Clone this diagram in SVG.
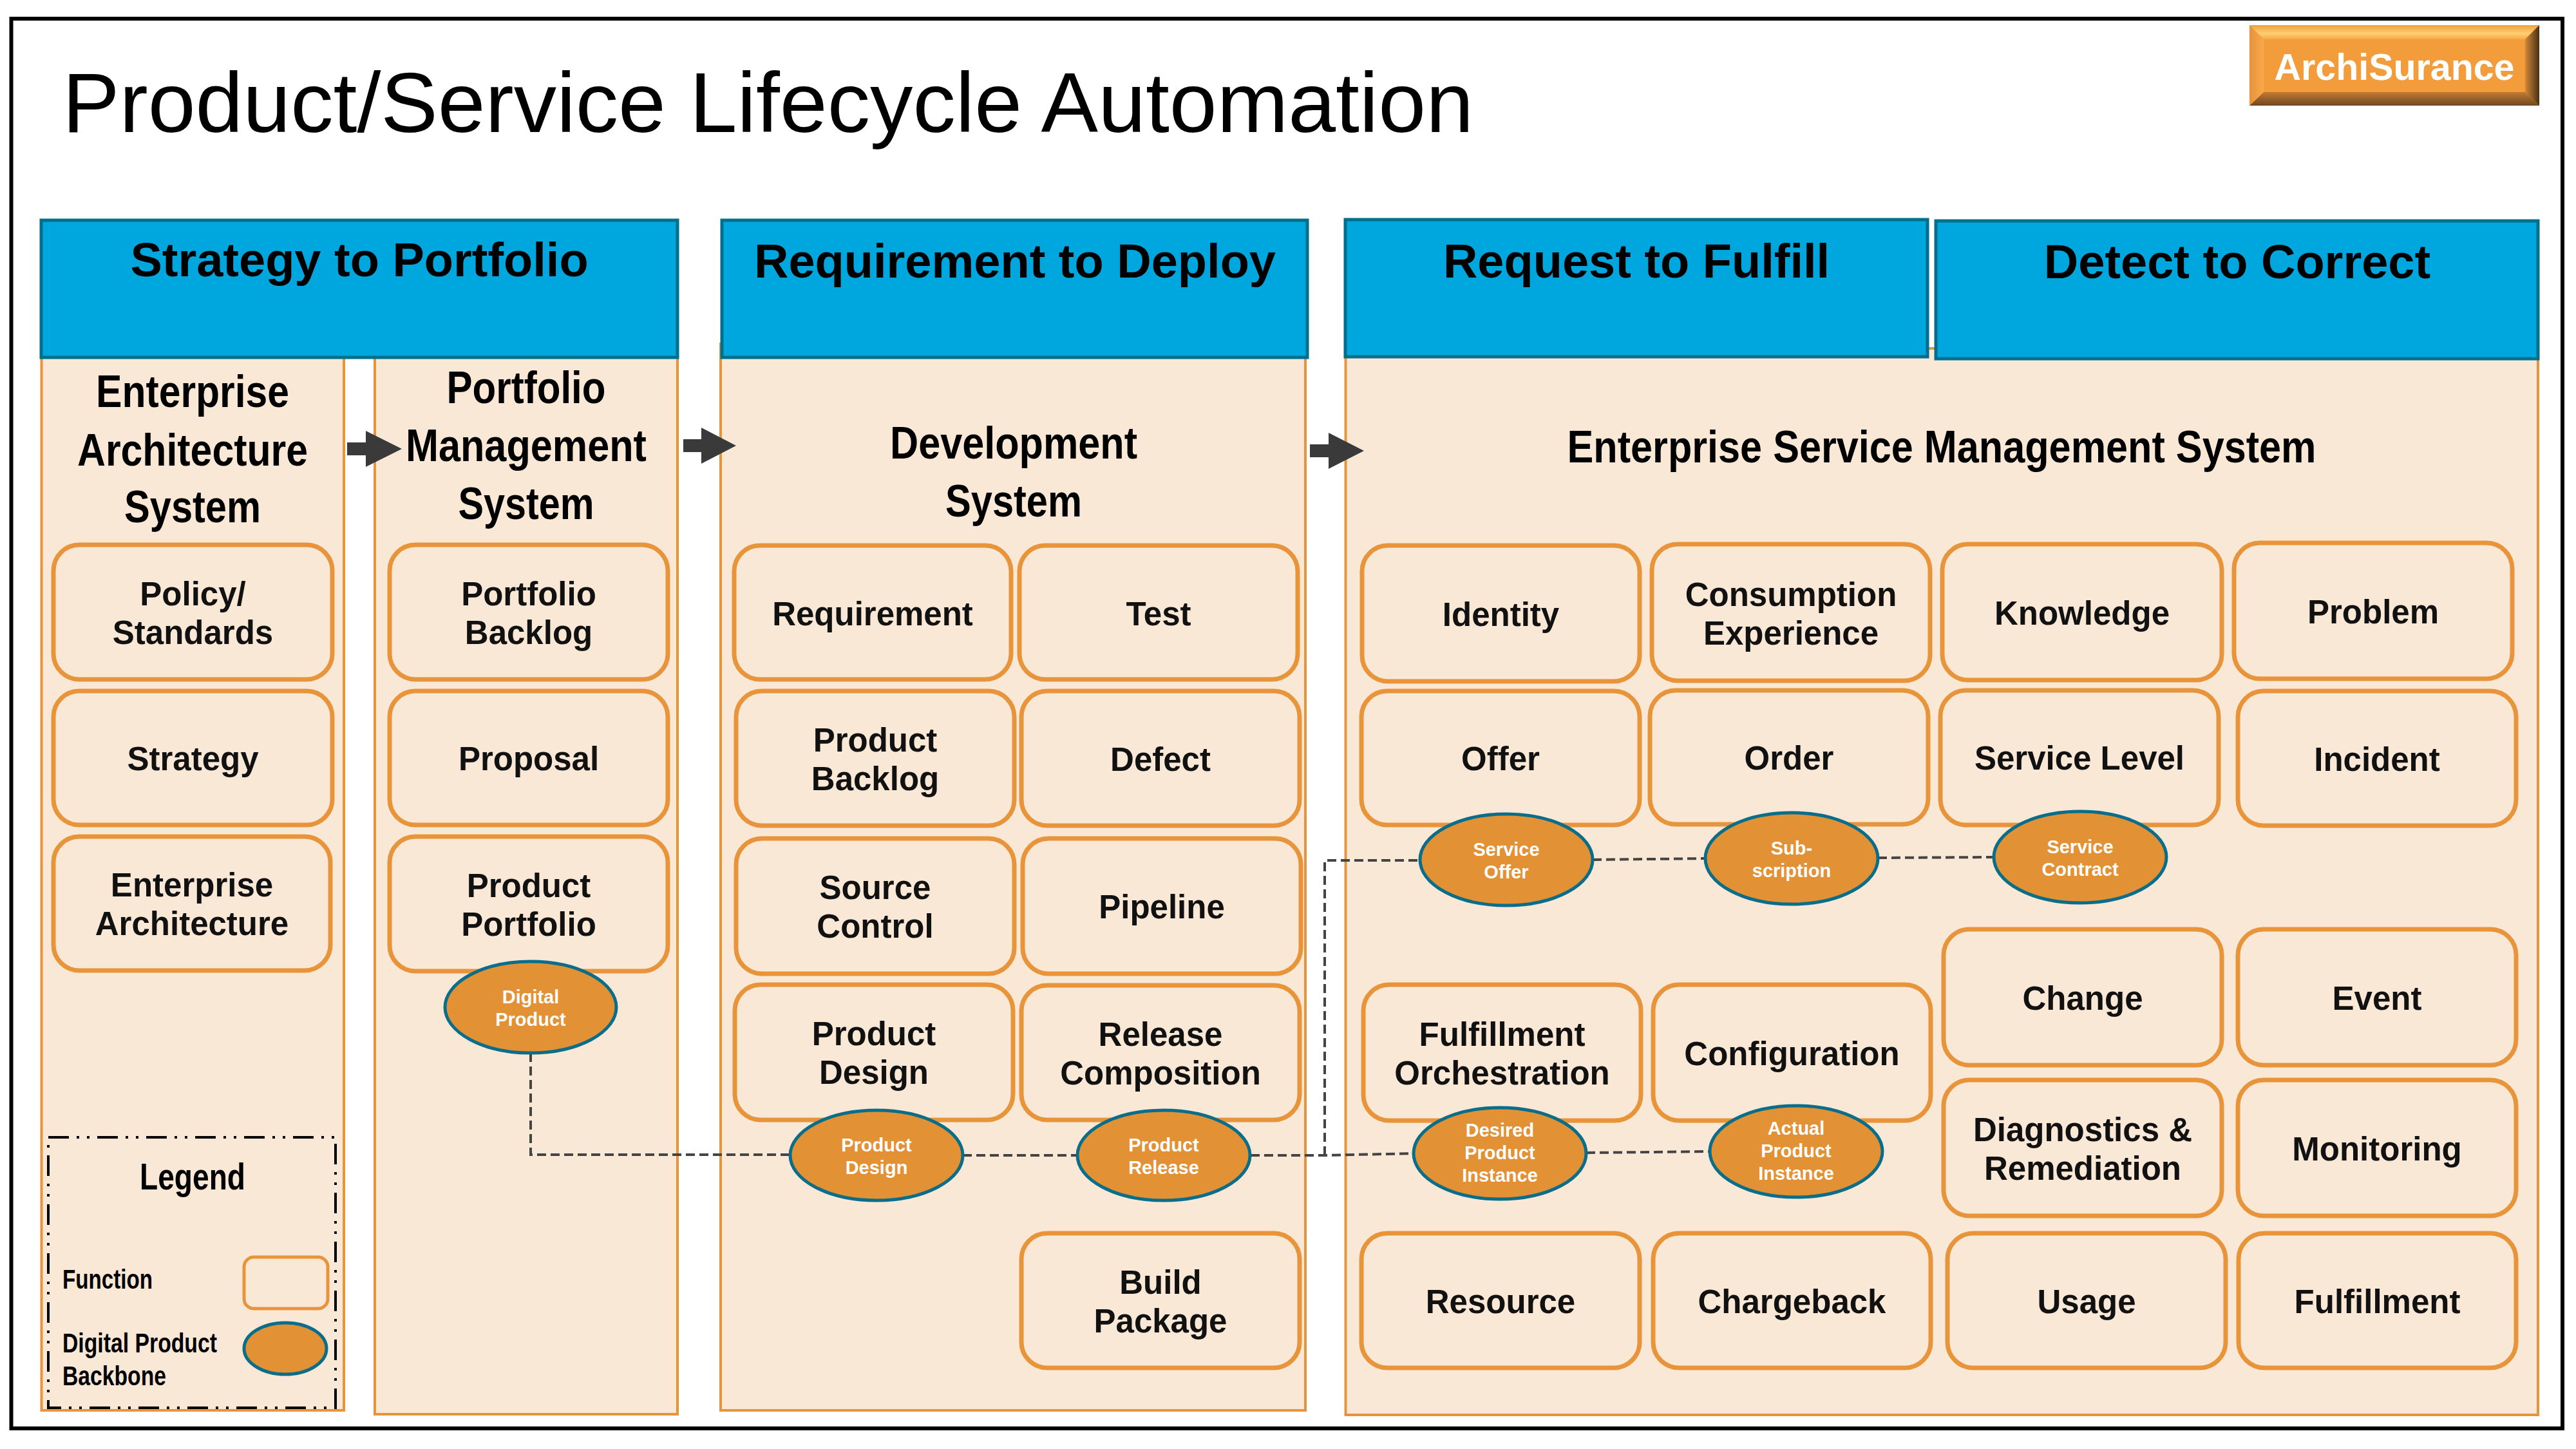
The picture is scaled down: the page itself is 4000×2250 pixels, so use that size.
<svg xmlns="http://www.w3.org/2000/svg" width="4000" height="2250" viewBox="0 0 4000 2250">
<defs>
<style>
text{font-family:"Liberation Sans",Arial,sans-serif;}
.col{fill:#FAE8D7;stroke:#E8943A;stroke-width:4;}
.hdr{fill:#00A7DE;stroke:#006F8C;stroke-width:5;}
.hdrt{font-weight:bold;font-size:74px;fill:#000;text-anchor:middle;}
.sys{font-weight:bold;font-size:70px;fill:#000;text-anchor:middle;}
.fn{fill:#FAE8D7;stroke:#E8943A;stroke-width:7;}
.lbl{font-weight:bold;font-size:51px;fill:#111;text-anchor:middle;}
.dp{fill:#E39135;stroke:#0A6E8A;stroke-width:5;}
.dpt{font-weight:bold;font-size:29px;fill:#fff;text-anchor:middle;}
.conn{fill:none;stroke:#444;stroke-width:4;stroke-dasharray:14 7;}
.arr{fill:#3A3A3A;}
.leg{font-weight:bold;fill:#000;}
</style>
<linearGradient id="gTop" x1="0" y1="0" x2="0" y2="1">
<stop offset="0" stop-color="#F0A040"/><stop offset="0.6" stop-color="#FFD070"/><stop offset="1" stop-color="#F6A845"/>
</linearGradient>
<linearGradient id="gBot" x1="0" y1="0" x2="0" y2="1">
<stop offset="0" stop-color="#C27A32"/><stop offset="1" stop-color="#6E4820"/>
</linearGradient>
<linearGradient id="gRight" x1="0" y1="0" x2="1" y2="0">
<stop offset="0" stop-color="#D08838"/><stop offset="1" stop-color="#4A3015"/>
</linearGradient>
<linearGradient id="gLeft" x1="0" y1="0" x2="1" y2="0">
<stop offset="0" stop-color="#E8923A"/><stop offset="1" stop-color="#F8AA4C"/>
</linearGradient>
</defs>

<rect id="frame" x="17.5" y="29" width="3961.5" height="2189" fill="#fff" stroke="#000" stroke-width="6"/>

<text id="title" x="97" y="205" font-size="132" fill="#000" textLength="2191" lengthAdjust="spacingAndGlyphs">Product/Service Lifecycle Automation</text>

<g id="badge">
<rect x="3493" y="39" width="450" height="125" fill="#F39C3C"/>
<polygon points="3493,39 3943,39 3921,61 3515,61" fill="url(#gTop)"/>
<polygon points="3493,164 3943,164 3921,143 3515,143" fill="url(#gBot)"/>
<polygon points="3493,39 3515,61 3515,143 3493,164" fill="url(#gLeft)"/>
<polygon points="3943,39 3921,61 3921,143 3943,164" fill="url(#gRight)"/>
<text x="3718" y="124" font-size="57" font-weight="bold" fill="#fff" text-anchor="middle" textLength="373" lengthAdjust="spacingAndGlyphs">ArchiSurance</text>
</g>

<g id="columns">
<rect id="col-ea" class="col" x="64.5" y="550" width="469.5" height="1640"/>
<rect id="col-pm" class="col" x="582" y="550" width="470" height="1646"/>
<rect id="col-dev" class="col" x="1119" y="534" width="908" height="1656"/>
<rect id="col-esm" class="col" x="2089.5" y="541" width="1851.5" height="1656"/>
</g>

<g id="hdr-s2p"><rect class="hdr" x="64" y="342" width="988" height="213"/><text class="hdrt" x="558" y="429">Strategy to Portfolio</text></g>
<g id="hdr-r2d"><rect class="hdr" x="1121" y="342" width="909" height="213"/><text class="hdrt" x="1576" y="431">Requirement to Deploy</text></g>
<g id="hdr-r2f"><rect class="hdr" x="2089" y="341" width="904" height="213"/><text class="hdrt" x="2541" y="431">Request to Fulfill</text></g>
<g id="hdr-d2c"><rect class="hdr" x="3006" y="343" width="935" height="214"/><text class="hdrt" x="3474" y="432">Detect to Correct</text></g>

<g id="sys-ea">
<text class="sys" x="299" y="632" textLength="300" lengthAdjust="spacingAndGlyphs">Enterprise</text>
<text class="sys" x="299" y="723" textLength="358" lengthAdjust="spacingAndGlyphs">Architecture</text>
<text class="sys" x="299" y="811" textLength="212" lengthAdjust="spacingAndGlyphs">System</text>
</g>
<g id="sys-pm">
<text class="sys" x="817" y="626" textLength="247" lengthAdjust="spacingAndGlyphs">Portfolio</text>
<text class="sys" x="817" y="716" textLength="374" lengthAdjust="spacingAndGlyphs">Management</text>
<text class="sys" x="817" y="806" textLength="211" lengthAdjust="spacingAndGlyphs">System</text>
</g>
<g id="sys-dev">
<text class="sys" x="1574" y="712" textLength="384" lengthAdjust="spacingAndGlyphs">Development</text>
<text class="sys" x="1574" y="802" textLength="212" lengthAdjust="spacingAndGlyphs">System</text>
</g>
<g id="sys-esm">
<text class="sys" x="3015" y="718" textLength="1163" lengthAdjust="spacingAndGlyphs">Enterprise Service Management System</text>
</g>

<g id="flow-arrows">
<polygon class="arr" points="539,687 568,687 568,669 624,697 568,725 568,707 539,707"/>
<polygon class="arr" points="1061,682 1089,682 1089,664 1143,692 1089,720 1089,702 1061,702"/>
<polygon class="arr" points="2034,690 2063,690 2063,672 2118,700 2063,728 2063,710 2034,710"/>
</g>

<!-- Strategy to Portfolio functions -->
<g id="fn-policy"><rect class="fn" x="83" y="846" width="433" height="209" rx="40"/><text class="lbl" x="299.5" y="940">Policy/</text><text class="lbl" x="299.5" y="1000">Standards</text></g>
<g id="fn-strategy"><rect class="fn" x="83" y="1073" width="433" height="208" rx="40"/><text class="lbl" x="299.5" y="1196">Strategy</text></g>
<g id="fn-ea"><rect class="fn" x="83" y="1299" width="430" height="208" rx="40"/><text class="lbl" x="298" y="1392">Enterprise</text><text class="lbl" x="298" y="1452">Architecture</text></g>
<g id="fn-pbacklog"><rect class="fn" x="605" y="846" width="432" height="209" rx="40"/><text class="lbl" x="821" y="940">Portfolio</text><text class="lbl" x="821" y="1000">Backlog</text></g>
<g id="fn-proposal"><rect class="fn" x="605" y="1073" width="432" height="208" rx="40"/><text class="lbl" x="821" y="1196">Proposal</text></g>
<g id="fn-pportfolio"><rect class="fn" x="605" y="1299" width="432" height="209" rx="40"/><text class="lbl" x="821" y="1393">Product</text><text class="lbl" x="821" y="1453">Portfolio</text></g>

<!-- Requirement to Deploy functions -->
<g id="fn-requirement"><rect class="fn" x="1140" y="847" width="430" height="208" rx="40"/><text class="lbl" x="1355" y="971">Requirement</text></g>
<g id="fn-test"><rect class="fn" x="1583" y="847" width="432" height="208" rx="40"/><text class="lbl" x="1799" y="971">Test</text></g>
<g id="fn-prodbacklog"><rect class="fn" x="1143" y="1073" width="432" height="209" rx="40"/><text class="lbl" x="1359" y="1167">Product</text><text class="lbl" x="1359" y="1227">Backlog</text></g>
<g id="fn-defect"><rect class="fn" x="1586" y="1073" width="432" height="209" rx="40"/><text class="lbl" x="1802" y="1197">Defect</text></g>
<g id="fn-source"><rect class="fn" x="1143" y="1302" width="432" height="210" rx="40"/><text class="lbl" x="1359" y="1396">Source</text><text class="lbl" x="1359" y="1456">Control</text></g>
<g id="fn-pipeline"><rect class="fn" x="1588" y="1302" width="432" height="210" rx="40"/><text class="lbl" x="1804" y="1426">Pipeline</text></g>
<g id="fn-proddesign"><rect class="fn" x="1141" y="1529" width="432" height="210" rx="40"/><text class="lbl" x="1357" y="1623">Product</text><text class="lbl" x="1357" y="1683">Design</text></g>
<g id="fn-release"><rect class="fn" x="1586" y="1530" width="432" height="209" rx="40"/><text class="lbl" x="1802" y="1624">Release</text><text class="lbl" x="1802" y="1684">Composition</text></g>
<g id="fn-build"><rect class="fn" x="1586" y="1915" width="432" height="209" rx="40"/><text class="lbl" x="1802" y="2009">Build</text><text class="lbl" x="1802" y="2069">Package</text></g>

<!-- Enterprise Service Management functions -->
<g id="fn-identity"><rect class="fn" x="2115" y="847" width="431" height="211" rx="40"/><text class="lbl" x="2330.5" y="972">Identity</text></g>
<g id="fn-consumption"><rect class="fn" x="2565" y="845" width="432" height="212" rx="40"/><text class="lbl" x="2781" y="941">Consumption</text><text class="lbl" x="2781" y="1001">Experience</text></g>
<g id="fn-knowledge"><rect class="fn" x="3016" y="845" width="434" height="211" rx="40"/><text class="lbl" x="3233" y="970">Knowledge</text></g>
<g id="fn-problem"><rect class="fn" x="3469" y="843" width="432" height="211" rx="40"/><text class="lbl" x="3685" y="968">Problem</text></g>
<g id="fn-offer"><rect class="fn" x="2114" y="1073" width="432" height="208" rx="40"/><text class="lbl" x="2330" y="1196">Offer</text></g>
<g id="fn-order"><rect class="fn" x="2562" y="1072" width="432" height="208" rx="40"/><text class="lbl" x="2778" y="1195">Order</text></g>
<g id="fn-servicelevel"><rect class="fn" x="3013" y="1072" width="432" height="209" rx="40"/><text class="lbl" x="3229" y="1195">Service Level</text></g>
<g id="fn-incident"><rect class="fn" x="3475" y="1073" width="432" height="209" rx="40"/><text class="lbl" x="3691" y="1197">Incident</text></g>
<g id="fn-change"><rect class="fn" x="3018" y="1443" width="432" height="211" rx="40"/><text class="lbl" x="3234" y="1568">Change</text></g>
<g id="fn-event"><rect class="fn" x="3475" y="1443" width="432" height="211" rx="40"/><text class="lbl" x="3691" y="1568">Event</text></g>
<g id="fn-fulfillorch"><rect class="fn" x="2117" y="1529" width="431" height="211" rx="40"/><text class="lbl" x="2332.5" y="1624">Fulfillment</text><text class="lbl" x="2332.5" y="1684">Orchestration</text></g>
<g id="fn-config"><rect class="fn" x="2567" y="1529" width="431" height="211" rx="40"/><text class="lbl" x="2782.5" y="1654">Configuration</text></g>
<g id="fn-diag"><rect class="fn" x="3018" y="1677" width="432" height="211" rx="40"/><text class="lbl" x="3234" y="1772">Diagnostics &amp;</text><text class="lbl" x="3234" y="1832">Remediation</text></g>
<g id="fn-monitoring"><rect class="fn" x="3475" y="1677" width="432" height="211" rx="40"/><text class="lbl" x="3691" y="1802">Monitoring</text></g>
<g id="fn-resource"><rect class="fn" x="2114" y="1915" width="432" height="209" rx="40"/><text class="lbl" x="2330" y="2039">Resource</text></g>
<g id="fn-chargeback"><rect class="fn" x="2567" y="1915" width="431" height="209" rx="40"/><text class="lbl" x="2782.5" y="2039">Chargeback</text></g>
<g id="fn-usage"><rect class="fn" x="3024" y="1915" width="432" height="209" rx="40"/><text class="lbl" x="3240" y="2039">Usage</text></g>
<g id="fn-fulfillment"><rect class="fn" x="3476" y="1915" width="431" height="209" rx="40"/><text class="lbl" x="3691.5" y="2039">Fulfillment</text></g>

<g id="connectors">
<path class="conn" d="M824,1635 V1793 H1227"/>
<path class="conn" d="M1495,1794 H1673"/>
<path class="conn" d="M1942,1794 H2057 L2195,1791"/>
<path class="conn" d="M2057,1794 V1336 H2205"/>
<path class="conn" d="M2473,1335 L2648,1333"/>
<path class="conn" d="M2916,1332 L3096,1331"/>
<path class="conn" d="M2463,1790 L2655,1788"/>
</g>

<g id="dp-digital"><ellipse class="dp" cx="824" cy="1564" rx="133" ry="71"/><text class="dpt" x="824" y="1558">Digital</text><text class="dpt" x="824" y="1593">Product</text></g>
<g id="dp-design"><ellipse class="dp" cx="1361" cy="1794" rx="134" ry="70"/><text class="dpt" x="1361" y="1788">Product</text><text class="dpt" x="1361" y="1823">Design</text></g>
<g id="dp-release"><ellipse class="dp" cx="1807" cy="1794" rx="134" ry="70"/><text class="dpt" x="1807" y="1788">Product</text><text class="dpt" x="1807" y="1823">Release</text></g>
<g id="dp-serviceoffer"><ellipse class="dp" cx="2339" cy="1335" rx="134" ry="71"/><text class="dpt" x="2339" y="1329">Service</text><text class="dpt" x="2339" y="1364">Offer</text></g>
<g id="dp-subscription"><ellipse class="dp" cx="2782" cy="1333" rx="134" ry="71"/><text class="dpt" x="2782" y="1327">Sub-</text><text class="dpt" x="2782" y="1362">scription</text></g>
<g id="dp-contract"><ellipse class="dp" cx="3230" cy="1331" rx="134" ry="71"/><text class="dpt" x="3230" y="1325">Service</text><text class="dpt" x="3230" y="1360">Contract</text></g>
<g id="dp-desired"><ellipse class="dp" cx="2329" cy="1791" rx="134" ry="71"/><text class="dpt" x="2329" y="1765">Desired</text><text class="dpt" x="2329" y="1800">Product</text><text class="dpt" x="2329" y="1835">Instance</text></g>
<g id="dp-actual"><ellipse class="dp" cx="2789" cy="1788" rx="134" ry="71"/><text class="dpt" x="2789" y="1762">Actual</text><text class="dpt" x="2789" y="1797">Product</text><text class="dpt" x="2789" y="1832">Instance</text></g>

<g id="legend">
<rect x="75" y="1766" width="446" height="420" fill="none" stroke="#000" stroke-width="4" stroke-dasharray="32 12 4 12 4 12"/>
<text class="leg" x="299" y="1847" font-size="58" text-anchor="middle" textLength="164" lengthAdjust="spacingAndGlyphs">Legend</text>
<text class="leg" x="97" y="2001" font-size="42" textLength="140" lengthAdjust="spacingAndGlyphs">Function</text>
<text class="leg" x="97" y="2100" font-size="42" textLength="240" lengthAdjust="spacingAndGlyphs">Digital Product</text>
<text class="leg" x="97" y="2151" font-size="42" textLength="161" lengthAdjust="spacingAndGlyphs">Backbone</text>
<rect x="379" y="1952" width="130" height="80" rx="15" fill="#FAE8D7" stroke="#E8943A" stroke-width="5"/>
<ellipse class="dp" cx="443" cy="2094" rx="64" ry="40"/>
</g>
</svg>
